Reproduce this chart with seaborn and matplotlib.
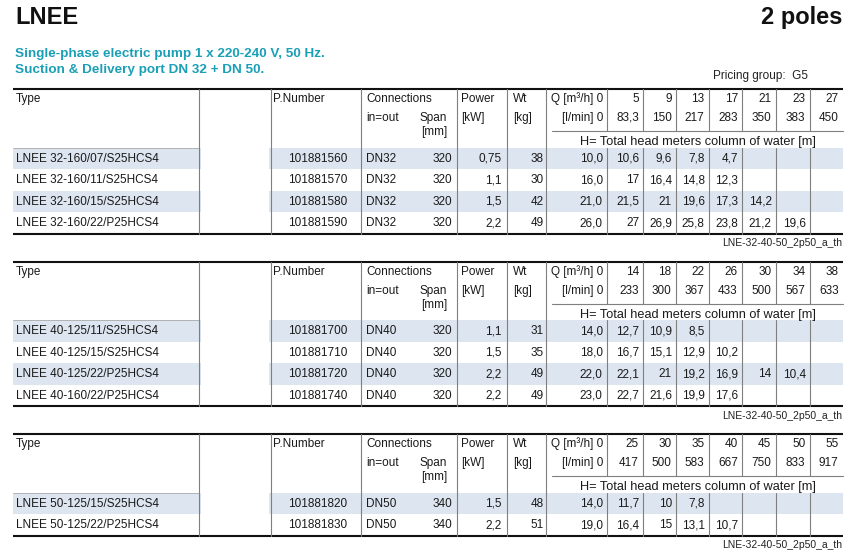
import matplotlib
matplotlib.use("Agg")
import matplotlib.pyplot as plt
from matplotlib.patches import Rectangle
import seaborn as sns

sns.set_theme(style="white")
plt.rcParams["font.family"] = ["Liberation Sans", "DejaVu Sans"]

# ---------------- data ----------------
title = "LNEE"
poles = "2 poles"
subtitle = ["Single-phase electric pump 1 x 220-240 V, 50 Hz.",
            "Suction & Delivery port DN 32 + DN 50."]
pricing = "Pricing group:  G5"
note = "LNE-32-40-50_2p50_a_th"

t1_types = ["LNEE 32-160/07/S25HCS4", "LNEE 32-160/11/S25HCS4",
            "LNEE 32-160/15/S25HCS4", "LNEE 32-160/22/P25HCS4"]
t1_pnum = ["101881560", "101881570", "101881580", "101881590"]
t1_conn = ["DN32", "DN32", "DN32", "DN32"]
t1_span = [320, 320, 320, 320]
t1_power = [0.75, 1.1, 1.5, 2.2]
t1_wt = [38, 30, 42, 49]
t1_q_m3h = [0, 5, 9, 13, 17, 21, 23, 27]
t1_q_lmin = [0, 83.3, 150, 217, 283, 350, 383, 450]
t1_head = [[10.0, 10.6, 9.6, 7.8, 4.7, None, None, None],
           [16.0, 17, 16.4, 14.8, 12.3, None, None, None],
           [21.0, 21.5, 21, 19.6, 17.3, 14.2, None, None],
           [26.0, 27, 26.9, 25.8, 23.8, 21.2, 19.6, None]]

t2_types = ["LNEE 40-125/11/S25HCS4", "LNEE 40-125/15/S25HCS4",
            "LNEE 40-125/22/P25HCS4", "LNEE 40-160/22/P25HCS4"]
t2_pnum = ["101881700", "101881710", "101881720", "101881740"]
t2_conn = ["DN40", "DN40", "DN40", "DN40"]
t2_span = [320, 320, 320, 320]
t2_power = [1.1, 1.5, 2.2, 2.2]
t2_wt = [31, 35, 49, 49]
t2_q_m3h = [0, 14, 18, 22, 26, 30, 34, 38]
t2_q_lmin = [0, 233, 300, 367, 433, 500, 567, 633]
t2_head = [[14.0, 12.7, 10.9, 8.5, None, None, None, None],
           [18.0, 16.7, 15.1, 12.9, 10.2, None, None, None],
           [22.0, 22.1, 21, 19.2, 16.9, 14, 10.4, None],
           [23.0, 22.7, 21.6, 19.9, 17.6, None, None, None]]

t3_types = ["LNEE 50-125/15/S25HCS4", "LNEE 50-125/22/P25HCS4"]
t3_pnum = ["101881820", "101881830"]
t3_conn = ["DN50", "DN50"]
t3_span = [340, 340]
t3_power = [1.5, 2.2]
t3_wt = [48, 51]
t3_q_m3h = [0, 25, 30, 35, 40, 45, 50, 55]
t3_q_lmin = [0, 417, 500, 583, 667, 750, 833, 917]
t3_head = [[14.0, 11.7, 10, 7.8, None, None, None, None],
           [19.0, 16.4, 15, 13.1, 10.7, None, None, None]]

tables = [
    dict(types=t1_types, pnum=t1_pnum, conn=t1_conn, span=t1_span, power=t1_power,
         wt=t1_wt, q_m3h=t1_q_m3h, q_lmin=t1_q_lmin, head=t1_head),
    dict(types=t2_types, pnum=t2_pnum, conn=t2_conn, span=t2_span, power=t2_power,
         wt=t2_wt, q_m3h=t2_q_m3h, q_lmin=t2_q_lmin, head=t2_head),
    dict(types=t3_types, pnum=t3_pnum, conn=t3_conn, span=t3_span, power=t3_power,
         wt=t3_wt, q_m3h=t3_q_m3h, q_lmin=t3_q_lmin, head=t3_head),
]

# ---------------- layout (pixels) ----------------
table_tops = [89, 261.7, 434.3]
HEADER_H = 58.5
ROW_H = 21.5
X0, X1 = 13, 843
Q_EDGES = [546, 606.7, 643.3, 676, 708.7, 742.3, 775.7, 810, 843]
FULL_VLINES = [199, 271, 361, 456.7, 507, 546]
SHADE = "#dde5f0"
TEAL = "#1a9fb6"
GREY = "#7f7f7f"
FS = 8.5


def fmt(v, first=False):
    if v is None:
        return ""
    s = f"{v:.1f}" if first else f"{v:g}"
    return s.replace(".", ",")


fig = plt.figure(figsize=(8.59, 5.60), dpi=100)
ax = fig.add_axes([0, 0, 1, 1])
ax.set_xlim(0, 859)
ax.set_ylim(560, 0)
ax.axis("off")

ax.text(15, 24.5, title, fontsize=17, fontweight="bold", color="#111111")
ax.text(842, 24, poles, fontsize=17, fontweight="bold", ha="right", color="#111111")
ax.text(15, 56.5, subtitle[0], fontsize=9.7, fontweight="bold", color=TEAL)
ax.text(15, 72.5, subtitle[1], fontsize=9.7, fontweight="bold", color=TEAL)
ax.text(808, 79, pricing, fontsize=FS, ha="right", color="#222222")

for T, tb in zip(table_tops, tables):
    n = len(tb["types"])
    D = T + HEADER_H
    B = D + n * ROW_H

    # row shading
    for i in range(0, n, 2):
        y = D + i * ROW_H
        ax.add_patch(Rectangle((X0, y), 201 - X0, ROW_H, color=SHADE, lw=0, zorder=0))
        ax.add_patch(Rectangle((269, y), X1 - 269, ROW_H, color=SHADE, lw=0, zorder=0))

    # rules
    ax.plot([X0, X1], [T, T], color="#111111", lw=1.5, solid_capstyle="butt")
    ax.plot([X0, X1], [B, B], color="#111111", lw=1.5, solid_capstyle="butt")
    ax.plot([X0, 199], [D, D], color="#aaaaaa", lw=0.6)
    ax.plot([552, X1], [T + 42, T + 42], color=GREY, lw=0.8)
    for x in FULL_VLINES:
        ax.plot([x, x], [T, B], color=GREY, lw=0.8)
    for x in Q_EDGES[1:-1]:
        ax.plot([x, x], [T, T + 42], color=GREY, lw=0.8)
        ax.plot([x, x], [D, B], color=GREY, lw=0.8)

    # header text
    h1, h2, h3 = T + 13, T + 32, T + 46
    kw = dict(fontsize=FS, color="#1a1a1a")
    ax.text(15.5, h1, "Type", **kw)
    ax.text(273.5, h1, "P.Number", **kw)
    ax.text(366, h1, "Connections", **kw)
    ax.text(366, h2, "in=out", **kw)
    ax.text(419.5, h2, "Span", **kw)
    ax.text(421, h3, "[mm]", **kw)
    ax.text(461, h1, "Power", **kw)
    ax.text(461, h2, "[kW]", **kw)
    ax.text(513, h1, "Wt", **kw)
    ax.text(513, h2, "[kg]", **kw)
    ax.text(603, h1, "Q [m³/h] 0", ha="right", **kw)
    ax.text(603, h2, "[l/min] 0", ha="right", **kw)
    for j in range(1, len(tb["q_m3h"])):
        xr = Q_EDGES[j + 1] - 4.5
        ax.text(xr, h1, fmt(tb["q_m3h"][j]), ha="right", **kw)
        ax.text(xr, h2, fmt(tb["q_lmin"][j]), ha="right", **kw)
    ax.text(698, T + 56, "H= Total head meters column of water [m]", ha="center",
            fontsize=9.2, color="#1a1a1a")

    # body
    for i in range(n):
        yb = D + i * ROW_H + 14.2
        ax.text(15.5, yb, tb["types"][i], **kw)
        ax.text(347, yb, tb["pnum"][i], ha="right", **kw)
        ax.text(366, yb, tb["conn"][i], **kw)
        ax.text(452, yb, str(tb["span"][i]), ha="right", **kw)
        ax.text(501.5, yb, fmt(tb["power"][i]), ha="right", **kw)
        ax.text(543.5, yb, str(tb["wt"][i]), ha="right", **kw)
        for j, v in enumerate(tb["head"][i]):
            ax.text(Q_EDGES[j + 1] - 4, yb, fmt(v, first=(j == 0)), ha="right", **kw)

    ax.text(842, B + 12.5, note, fontsize=7.5, ha="right", color="#222222")

fig.savefig("out.png", dpi=100)
plt.close(fig)
